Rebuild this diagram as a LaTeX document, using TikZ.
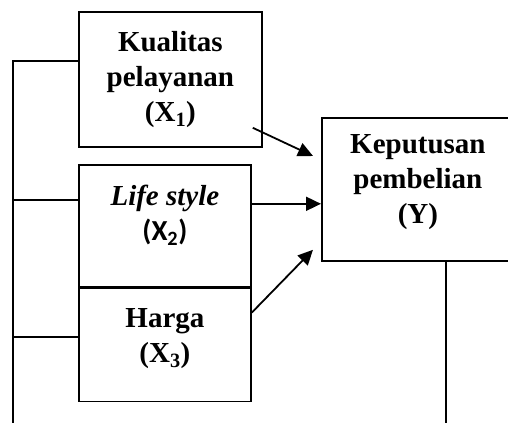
\documentclass[tikz,border=0pt]{standalone}
\usepackage{fontspec}
\setmainfont{Liberation Serif}
\newfontfamily\carlito{Carlito}
\usetikzlibrary{positioning,arrows.meta,calc}

\tikzset{
  varbox/.style={draw, line width=1.8pt, align=center, inner sep=0pt,
    font=\fontsize{29}{35}\selectfont\bfseries},
  conn/.style={line width=1.8pt},
  arr/.style={line width=1.8pt, -{Triangle[length=15pt,width=14pt]}}
}

\begin{document}
\begin{tikzpicture}[x=1pt,y=1pt]
  \useasboundingbox (0,0) rectangle (508,-423);

  % variables
  \node[varbox, minimum width=183pt, minimum height=135pt, anchor=north west]
    (x1) at (78,-11) {Kualitas\\pelayanan\\(X\textsubscript{1})};
  \node[varbox, minimum width=172pt, minimum height=122pt, text depth=25pt,
    below=16pt of x1.south west, anchor=north west]
    (x2) {\textit{Life style}\\{\carlito\bfseries (X\textsubscript{2})}};
  \node[varbox, minimum width=172pt, minimum height=113pt, text depth=19pt,
    anchor=north west] (x3) at (x2.south west) {Harga\\(X\textsubscript{3})};
  \node[varbox, minimum width=192pt, minimum height=143pt, text depth=21pt,
    anchor=north west] (kp) at (321,-117) {Keputusan\\pembelian\\(Y)};

  % side lines
  \coordinate (la) at (13,-61);
  \coordinate (lb) at (13,-200);
  \coordinate (lc) at (13,-337);
  \coordinate (ld) at (13,-423);
  \coordinate (rd) at (446,-423);
  \draw[conn] (x1.west |- la) -- (la) -- (ld);
  \draw[conn] (x2.west |- lb) -- (lb);
  \draw[conn] (x3.west |- lc) -- (lc);
  \draw[conn] (kp.south -| rd) -- (rd);

  % arrows
  \draw[arr] ($(x1.south east)+(-10,20)$) -- ($(kp.north west)+(-8,-39)$);
  \draw[arr] ($(x2.north east)+(0,-40)$) coordinate (a2) -- (a2 -| kp.west);
  \draw[arr] ($(x3.north east)+(0,-25)$) -- ($(kp.south west)+(-8,12)$);
\end{tikzpicture}
\end{document}
